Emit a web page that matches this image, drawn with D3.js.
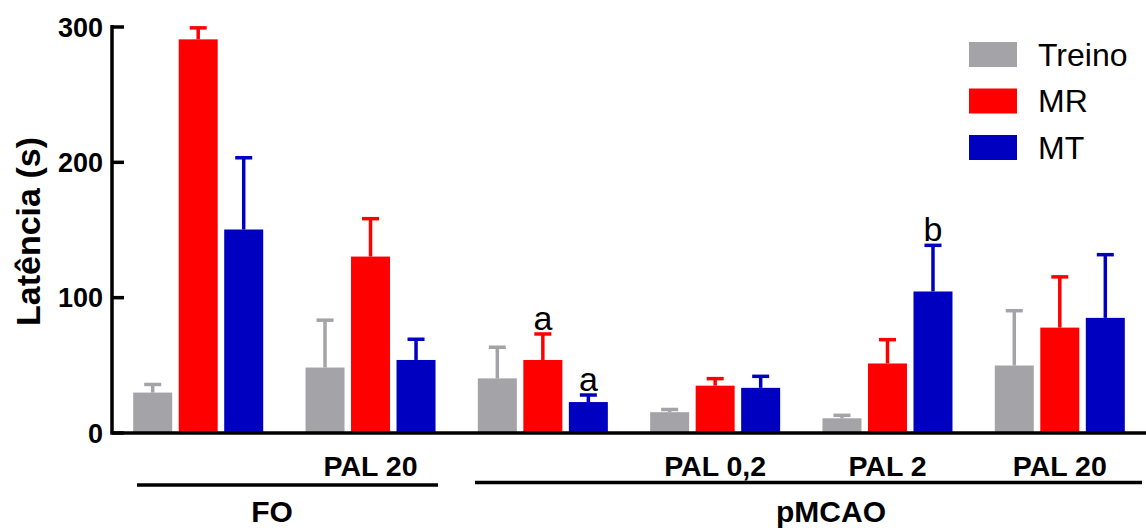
<!DOCTYPE html>
<html>
<head>
<meta charset="utf-8">
<script src="https://cdn.jsdelivr.net/npm/d3@7"></script>
<style>
  html, body { margin: 0; padding: 0; background: #fff; }
  svg { display: block; font-family: "Liberation Sans", Arial, Helvetica, sans-serif; }
</style>
</head>
<body>
<svg id="chart" width="1146" height="530"></svg>
<script>
// Latency (s) per group: mean and SEM for each session
const groupLabels = ["", "PAL 20", "", "PAL 0,2", "PAL 2", "PAL 20"];
const seriesNames = ["Treino", "MR", "MT"];
const seriesColors = ["#a4a3a8", "#ff0000", "#0000c0"];

const treinoMean = [29.5, 48, 40, 15, 10.5, 49.5];
const treinoSem  = [6, 35, 23, 2, 2.2, 40.5];
const mrMean     = [290.5, 130, 53.6, 34.6, 51, 77.5];
const mrSem      = [8.5, 28, 19.2, 5.2, 17.6, 37.5];
const mtMean     = [150, 53.6, 22.5, 33, 104.2, 84.7];
const mtSem      = [53, 15.3, 5.2, 8.5, 34.1, 46.7];

// Significance letters: [group index, series index, letter]
const marks = [[2, 1, "a"], [2, 2, "a"], [4, 2, "b"]];

// Condition brackets below the axis: [first group, last group, label]
const conditions = [[0, 1, "FO"], [2, 5, "pMCAO"]];

const yTicks = [0, 100, 200, 300];

const means = [treinoMean, mrMean, mtMean];
const sems = [treinoSem, mrSem, mtSem];

const svg = d3.select("#chart");
const axisX = 112;
const baseY = 432.5;

const x0 = d3.scaleBand()
  .domain(d3.range(groupLabels.length))
  .range([axisX, 1146])
  .paddingInner(0.2455)
  .paddingOuter(0.123);

const x1 = d3.scaleBand()
  .domain(d3.range(seriesNames.length))
  .range([0, x0.bandwidth()])
  .paddingInner(0.143);

const y = d3.scaleLinear().domain([0, 300]).range([baseY, 26.5]);

// bars
const bars = [];
groupLabels.forEach((g, gi) => {
  seriesNames.forEach((s, si) => {
    bars.push({ gi, si, v: means[si][gi], e: sems[si][gi] });
  });
});

const barG = svg.append("g");
barG.selectAll("rect")
  .data(bars)
  .join("rect")
  .attr("x", d => x0(d.gi) + x1(d.si))
  .attr("y", d => y(d.v))
  .attr("width", x1.bandwidth())
  .attr("height", d => y(0) - y(d.v))
  .attr("fill", d => seriesColors[d.si]);

// error bars (upper only)
const capW = 17;
const errG = svg.append("g");
bars.forEach(d => {
  const cx = x0(d.gi) + x1(d.si) + x1.bandwidth() / 2;
  const top = y(d.v + d.e);
  errG.append("line")
    .attr("x1", cx).attr("x2", cx)
    .attr("y1", y(d.v)).attr("y2", top)
    .attr("stroke", seriesColors[d.si]).attr("stroke-width", 3.5);
  errG.append("line")
    .attr("x1", cx - capW / 2).attr("x2", cx + capW / 2)
    .attr("y1", top).attr("y2", top)
    .attr("stroke", seriesColors[d.si]).attr("stroke-width", 3.5);
});

// significance letters
svg.append("g").selectAll("text")
  .data(marks)
  .join("text")
  .attr("x", d => x0(d[0]) + x1(d[1]) + x1.bandwidth() / 2)
  .attr("y", d => y(means[d[1]][d[0]] + sems[d[1]][d[0]]) - 4)
  .attr("text-anchor", "middle")
  .attr("font-size", 34)
  .attr("fill", "#000")
  .text(d => d[2]);

// y axis
const yAxis = d3.axisLeft(y)
  .tickValues(yTicks)
  .tickSizeInner(-12)
  .tickSizeOuter(0)
  .tickPadding(9);

const yg = svg.append("g")
  .attr("transform", `translate(${axisX},0)`)
  .call(yAxis);
yg.select(".domain").attr("stroke", "#000").attr("stroke-width", 3.5)
  .attr("d", `M0,${y(300) - 1.5}V${y(0)}`);
yg.selectAll(".tick line").attr("stroke", "#000").attr("stroke-width", 3.5);
yg.selectAll(".tick text")
  .attr("font-size", 27).attr("font-weight", "bold").attr("fill", "#000")
  .attr("font-family", "'Liberation Sans', Arial, sans-serif")
  .attr("dy", "0.36em");

// x axis baseline
svg.append("line")
  .attr("x1", axisX - 1.75).attr("x2", 1146)
  .attr("y1", y(0) + 0.5).attr("y2", y(0) + 0.5)
  .attr("stroke", "#000").attr("stroke-width", 3.5);

// y axis title
svg.append("text")
  .attr("transform", `translate(40,${(y(0) + y(300)) / 2 + 2}) rotate(-90)`)
  .attr("text-anchor", "middle")
  .attr("font-size", 34)
  .attr("font-weight", "bold")
  .attr("fill", "#000")
  .text("Latência (s)");

// group labels
svg.append("g").selectAll("text")
  .data(groupLabels.map((t, i) => ({ t, i })).filter(d => d.t))
  .join("text")
  .attr("x", d => x0(d.i) + x0.bandwidth() / 2)
  .attr("y", 476)
  .attr("text-anchor", "middle")
  .attr("font-size", 28.5)
  .attr("font-weight", "bold")
  .attr("fill", "#000")
  .text(d => d.t);

// condition brackets
const condG = svg.append("g");
const lineSpan = [[137, 438, 485], [475, 1142, 482.5]];
const labelX = [272, 831];
conditions.forEach((c, k) => {
  const [lx1, lx2, ly] = lineSpan[k];
  condG.append("line")
    .attr("x1", lx1).attr("x2", lx2)
    .attr("y1", ly).attr("y2", ly)
    .attr("stroke", "#000").attr("stroke-width", 3.5);
  condG.append("text")
    .attr("x", labelX[k])
    .attr("y", 522)
    .attr("text-anchor", "middle")
    .attr("font-size", 30)
    .attr("font-weight", "bold")
    .attr("fill", "#000")
    .text(c[2]);
});

// legend
const legend = svg.append("g").attr("transform", "translate(969,42)");
seriesNames.forEach((s, i) => {
  const row = legend.append("g").attr("transform", `translate(0,${i * 46.5})`);
  row.append("rect")
    .attr("width", 48).attr("height", 25)
    .attr("fill", seriesColors[i]);
  row.append("text")
    .attr("x", 69).attr("y", 23.5)
    .attr("font-size", 32)
    .attr("fill", "#000")
    .text(s);
});
</script>
</body>
</html>
